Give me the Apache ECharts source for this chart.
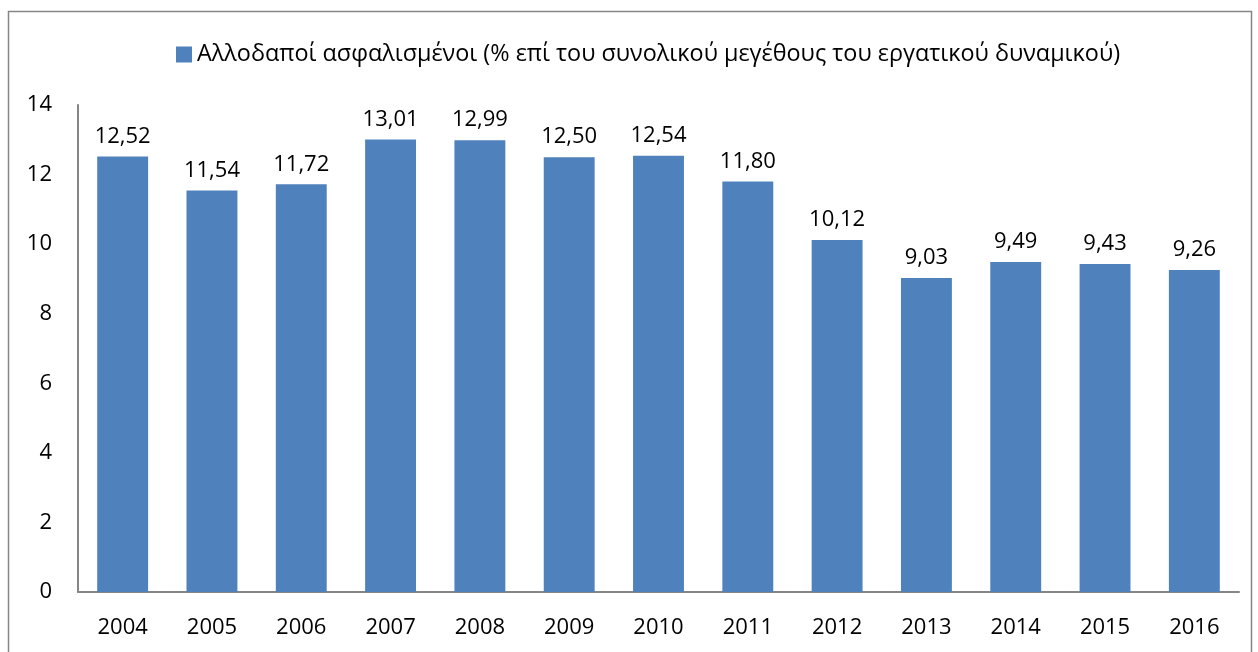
<!DOCTYPE html>
<html>
<head>
<meta charset="utf-8">
<script src="https://cdn.jsdelivr.net/npm/echarts@6/dist/echarts.min.js"></script>
<style>
  html, body { margin: 0; padding: 0; background: #fff; }
  #chart { width: 1258px; height: 652px; }
</style>
</head>
<body>
<div id="chart"></div>
<script>
const years = ['2004', '2005', '2006', '2007', '2008', '2009', '2010', '2011', '2012', '2013', '2014', '2015', '2016']
const foreignShare = [12.52, 11.54, 11.72, 13.01, 12.99, 12.50, 12.54, 11.80, 10.12, 9.03, 9.49, 9.43, 9.26]
const seriesName = 'Αλλοδαποί ασφαλισμένοι (% επί του συνολικού μεγέθους του εργατικού δυναμικού)'

const font = 'Open Sans'
const chart = echarts.init(document.getElementById('chart'))

chart.setOption({
  backgroundColor: '#fff',
  animation: false,
  graphic: [{
    type: 'rect',
    shape: { x: 8.5, y: 11.5, width: 1243, height: 660 },
    style: { fill: 'none', stroke: '#868686', lineWidth: 1.5 },
    silent: true,
  }],
  legend: {
    data: [seriesName],
    left: 171,
    top: 38,
    icon: 'rect',
    itemWidth: 16,
    itemHeight: 16,
    itemGap: 5,
    textStyle: { color: '#000', fontSize: 23.4, fontFamily: font },
  },
  grid: { left: 78, right: 19, top: 105, bottom: 60 },
  xAxis: {
    type: 'category',
    data: years,
    axisLine: { lineStyle: { color: '#868686', width: 2 } },
    axisTick: { show: false },
    axisLabel: { color: '#000', fontSize: 22, fontFamily: font, margin: 25 },
  },
  yAxis: {
    type: 'value',
    min: 0,
    max: 14,
    interval: 2,
    axisLine: { show: true, lineStyle: { color: '#868686', width: 2 } },
    axisTick: { show: false },
    splitLine: { show: false },
    axisLabel: { color: '#000', fontSize: 22, fontFamily: font, margin: 26 },
  },
  series: [{
    name: seriesName,
    type: 'bar',
    data: foreignShare,
    barCategoryGap: '43%',
    itemStyle: { color: '#4F81BD' },
    label: {
      show: true,
      position: 'top',
      distance: 9,
      color: '#000',
      fontSize: 22,
      fontFamily: font,
      formatter: (p) => p.value.toFixed(2).replace('.', ','),
    },
  }],
})
</script>
</body>
</html>
